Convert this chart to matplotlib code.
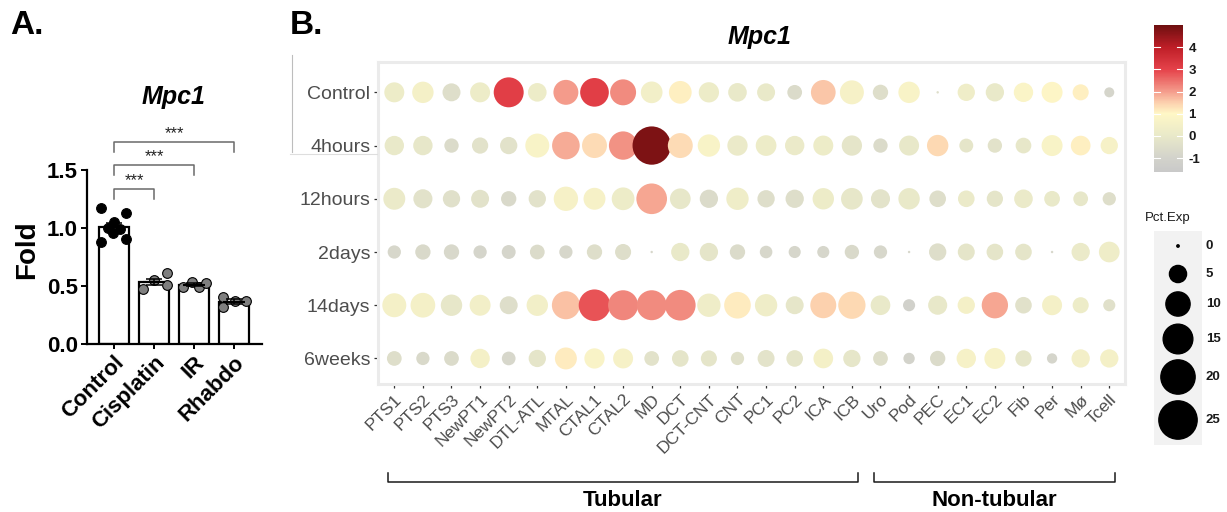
import numpy as np
import matplotlib
matplotlib.use("Agg")
import matplotlib.pyplot as plt
from matplotlib.colors import LinearSegmentedColormap, Normalize
from matplotlib.cm import ScalarMappable
from matplotlib.lines import Line2D

plt.rcParams['font.family'] = ['Liberation Sans', 'DejaVu Sans']
plt.rcParams['axes.unicode_minus'] = False

W, H = 1227, 512

# ---- panel A data (qPCR fold) ----
groups = ['Control', 'Cisplatin', 'IR', 'Rhabdo']
fold_pts = [
    [1.17, 1.13, 1.05, 1.00, 0.99, 0.96, 0.91, 0.88],
    [0.48, 0.55, 0.61, 0.51],
    [0.49, 0.54, 0.49, 0.53],
    [0.41, 0.32, 0.37, 0.37],
]
jitter = [
    [-0.32, 0.30, 0.0, -0.15, 0.15, -0.02, 0.30, -0.32],
    [-0.28, 0.0, 0.32, 0.32],
    [-0.28, -0.05, 0.12, 0.30],
    [-0.28, -0.28, 0.02, 0.30],
]
sig_pairs = [(0, 1), (0, 2), (0, 3)]
sig_labels = ['***', '***', '***']

# ---- panel B data (dot plot) ----
cell_types = ['PTS1', 'PTS2', 'PTS3', 'NewPT1', 'NewPT2', 'DTL-ATL', 'MTAL', 'CTAL1',
              'CTAL2', 'MD', 'DCT', 'DCT-CNT', 'CNT', 'PC1', 'PC2', 'ICA', 'ICB',
              'Uro', 'Pod', 'PEC', 'EC1', 'EC2', 'Fib', 'Per', 'M\u00f8', 'Tcell']
conditions = ['Control', '4hours', '12hours', '2days', '14days', '6weeks']

pct_exp = [
    [6.8, 7.8, 5.5, 6.8, 15.3, 5.9, 10.6, 14.0, 11.5, 8.0, 8.8, 7.0, 5.9, 5.5, 3.7, 10.4, 9.8, 4.0, 7.8, 0.1, 5.1, 5.7, 6.4, 7.5, 4.4, 1.7],
    [6.4, 6.4, 3.5, 4.5, 5.1, 9.8, 13.0, 10.6, 13.7, 25.0, 10.6, 8.5, 7.0, 7.3, 6.4, 6.8, 7.0, 3.5, 6.8, 7.8, 3.3, 3.5, 4.2, 7.5, 6.6, 5.1],
    [8.2, 6.2, 5.1, 5.5, 4.0, 5.1, 10.1, 8.2, 8.8, 16.0, 7.3, 5.7, 8.5, 5.1, 5.7, 7.8, 8.0, 6.2, 7.8, 4.7, 4.7, 4.5, 5.9, 4.2, 3.7, 3.0],
    [3.0, 4.0, 4.0, 3.0, 3.3, 3.7, 3.0, 4.0, 4.4, 0.1, 5.7, 5.7, 4.0, 2.7, 2.5, 2.5, 3.5, 3.0, 0.1, 5.1, 4.9, 4.7, 4.7, 0.1, 5.7, 7.3],
    [9.8, 10.4, 7.8, 7.5, 5.5, 7.8, 13.4, 17.0, 15.3, 15.3, 16.0, 9.3, 12.1, 8.5, 5.5, 11.5, 12.7, 6.6, 2.5, 6.2, 5.1, 11.8, 4.7, 6.8, 4.4, 2.5],
    [3.7, 3.0, 3.7, 6.4, 3.2, 5.1, 8.2, 7.0, 6.8, 3.7, 4.7, 4.4, 3.0, 4.9, 4.7, 6.6, 5.1, 3.7, 2.2, 4.0, 6.4, 7.5, 4.5, 1.8, 5.7, 5.7],
]
avg_exp = [
    [0.2, 0.5, -0.5, 0.2, 3.1, 0.2, 2.0, 3.1, 2.2, 0.4, 1.1, 0.2, 0.0, 0.0, -0.6, 1.6, 0.6, -0.5, 0.7, -0.5, 0.3, 0.0, 0.8, 0.9, 1.1, -0.9],
    [0.0, -0.1, -0.6, -0.3, -0.3, 0.7, 1.85, 1.35, 2.1, 4.8, 1.35, 0.7, 0.1, 0.2, 0.1, 0.2, -0.2, -0.6, -0.05, 1.4, -0.2, -0.3, -0.1, 0.7, 1.1, 0.6],
    [0.1, -0.3, -0.4, -0.3, -0.7, -0.3, 0.6, 0.6, 0.2, 1.9, -0.1, -0.6, 0.3, -0.5, -0.5, 0.2, -0.1, -0.25, 0.0, -0.5, 0.1, -0.2, 0.1, 0.0, -0.1, -0.5],
    [-0.8, -0.7, -0.75, -0.9, -0.9, -0.6, -0.8, -0.5, -0.5, -0.8, 0.0, -0.2, -0.6, -0.8, -0.85, -0.85, -0.7, -0.8, -0.8, -0.5, -0.2, -0.2, -0.2, -0.8, 0.1, 0.3],
    [0.5, 0.5, -0.1, 0.4, -0.5, 0.4, 1.65, 2.8, 2.25, 2.2, 2.2, 0.3, 1.15, 0.3, -0.15, 1.5, 1.4, 0.0, -1.1, -0.05, 0.5, 1.9, -0.35, 0.5, 0.2, -0.4],
    [-0.5, -0.7, -0.6, 0.5, -0.8, -0.2, 1.15, 0.75, 0.6, -0.3, -0.2, -0.2, -0.4, -0.25, -0.2, 0.5, -0.15, -0.5, -1.0, -0.6, 0.6, 0.65, -0.15, -0.9, 0.45, 0.5],
]
size_breaks = [0, 5, 10, 15, 20, 25]
color_breaks = [-1, 0, 1, 2, 3, 4]
groups_b = [('Tubular', 0, 16), ('Non-tubular', 17, 25)]

vmin, vmax = -1.63, 5.0
anchors = [(-1.63, '#C9C9C9'), (-1.0, '#D3D3CB'), (0.0, '#E9E9C9'), (1.0, '#FFF7C6'),
           (1.5, '#FCD0AE'), (2.0, '#F49C8C'), (3.0, '#E5424A'), (4.0, '#BE1E27'), (5.0, '#6E0F10')]
cmap = LinearSegmentedColormap.from_list(
    'expr', [((v - vmin) / (vmax - vmin), c) for v, c in anchors])
norm = Normalize(vmin, vmax)
SCALE = (7.66 * 0.72) ** 2   # points^2 per pct


def fx(x):
    return x / W


def fy(y):
    return 1 - y / H


fig = plt.figure(figsize=(W / 100, H / 100), dpi=100)

# ================= panel A =================
axA = fig.add_axes([fx(87), fy(344.3), (261.7 - 87) / W, (344.3 - 170) / H])
means = [np.mean(p) for p in fold_pts]
sems = [np.std(p, ddof=1) / np.sqrt(len(p)) for p in fold_pts]
xs = np.arange(len(groups))
axA.bar(xs, means, width=0.75, color='white', edgecolor='black', linewidth=1.6, zorder=1)
for i, (pts, jit) in enumerate(zip(fold_pts, jitter)):
    fc = 'black' if i == 0 else '#7F7F7F'
    axA.plot(i + np.array(jit), pts, 'o', ms=7, mfc=fc, mec='black', mew=0.8,
             zorder=3, clip_on=False)
axA.errorbar(xs, means, yerr=sems, fmt='none', ecolor='black', elinewidth=1.1,
             capsize=6, capthick=1.1, zorder=4)
axA.plot(xs, means, '_', ms=16, mew=1.5, color='black', zorder=4)
axA.set_xlim(-0.675, 3.69)
axA.set_ylim(0, 1.5)
axA.spines[['top', 'right']].set_visible(False)
for s in ['left', 'bottom']:
    axA.spines[s].set_linewidth(1.6)
axA.set_yticks([0, 0.5, 1.0, 1.5])
axA.set_yticklabels(['0.0', '0.5', '1.0', '1.5'], fontsize=16, fontweight='bold')
axA.set_xticks(xs)
axA.set_xticklabels(groups, fontsize=16, fontweight='bold', rotation=45,
                    ha='right', va='top', rotation_mode='anchor')
axA.tick_params(axis='y', length=4.5, width=1.4, pad=2)
axA.tick_params(axis='x', length=3.5, width=1.4, pad=2)

bracket_y = [1.336, 1.544, 1.737]
for (a, b), lab, yb in zip(sig_pairs, sig_labels, bracket_y):
    axA.plot([a, a, b, b], [yb - 0.085, yb, yb, yb - 0.085], color='#6A6A6A',
             lw=1.1, clip_on=False)
    axA.text((a + b) / 2, yb + 0.008, lab, ha='center', va='bottom', fontsize=12,
             color='#222222', clip_on=False)

fig.text(fx(173), fy(97), 'Mpc1', ha='center', va='center', fontsize=18,
         fontweight='bold', style='italic')
fig.text(fx(27), fy(250), 'Fold', ha='center', va='center', fontsize=20,
         fontweight='bold', rotation=90)
fig.text(fx(10), fy(26), 'A.', ha='left', va='center', fontsize=24, fontweight='bold')
fig.text(fx(290), fy(26), 'B.', ha='left', va='center', fontsize=24, fontweight='bold')

# ================= panel B =================
axB = fig.add_axes([fx(378), fy(384), 747 / W, 322 / H])
pct = np.array(pct_exp)
avg = np.array(avg_exp)
gx, gy = np.meshgrid(np.arange(len(cell_types)), np.arange(len(conditions)))
axB.scatter(gx.ravel(), gy.ravel(), s=SCALE * pct.ravel(), c=avg.ravel(),
            cmap=cmap, norm=norm, edgecolors='none', zorder=3)
axB.set_xlim(-0.57, 25.55)
axB.set_ylim(5.48, -0.57)
for s in axB.spines.values():
    s.set_color('#EBEBEB')
    s.set_linewidth(2.2)
axB.set_xticks(np.arange(len(cell_types)))
axB.set_xticklabels(cell_types, rotation=45, ha='right', va='top',
                    rotation_mode='anchor', fontsize=12.5, color='#4D4D4D')
axB.set_yticks(np.arange(len(conditions)))
axB.set_yticklabels(conditions, fontsize=14, color='#4D4D4D')
axB.tick_params(axis='both', length=3, width=0.9, color='#333333', pad=2.5)

fig.text(fx(759), fy(37), 'Mpc1', ha='center', va='center', fontsize=18,
         fontweight='bold', style='italic')

# group brackets under x labels
for (name, c0, c1) in groups_b:
    x0 = axB.transData.transform((c0 - 0.23, 0))[0]
    x1 = axB.transData.transform((c1 + 0.2, 0))[0]
    x0, x1 = x0 / fig.dpi / fig.get_figwidth(), x1 / fig.dpi / fig.get_figwidth()
    fig.add_artist(Line2D([x0, x0, x1, x1], [fy(473), fy(482), fy(482), fy(473)],
                          color='#1A1A1A', lw=1.1))
    fig.text((x0 + x1) / 2, fy(501), name, ha='center', va='center', fontsize=16,
             fontweight='bold')

# faint leftover frame lines
fig.add_artist(Line2D([fx(292), fx(292)], [fy(55), fy(152)], color='#BDBDBD', lw=0.8))
fig.add_artist(Line2D([fx(290), fx(377)], [fy(153.5), fy(153.5)], color='#DEDEDE', lw=0.8))

# colour bar
cax = fig.add_axes([fx(1154), fy(172), 29 / W, 147 / H])
cb = fig.colorbar(ScalarMappable(norm=norm, cmap=cmap), cax=cax)
cb.outline.set_visible(False)
cb.set_ticks(color_breaks)
cb.ax.tick_params(length=0, labelsize=9.5, pad=4, labelcolor='#1A1A1A')
for t in cb.ax.get_yticklabels():
    t.set_fontweight('bold')
for v in color_breaks:
    cax.plot([0, 0.2], [v, v], color='white', lw=0.8, transform=cax.get_yaxis_transform())
    cax.plot([0.8, 1], [v, v], color='white', lw=0.8, transform=cax.get_yaxis_transform())

# size legend
fig.text(fx(1145), fy(218), 'Pct.Exp', ha='left', va='center', fontsize=9.5, color='#1A1A1A')
lax = fig.add_axes([fx(1154), fy(445), 48 / W, 214 / H])
lax.set_facecolor('#F2F2F2')
for s in lax.spines.values():
    s.set_visible(False)
lax.set_xticks([])
lax.set_yticks([])
lax.set_xlim(1154, 1202)
lax.set_ylim(445, 231)
key_y = [246, 274, 304, 339, 377, 420]
sizes = [SCALE * max(b, 0.1) for b in size_breaks]
lax.scatter([1178] * len(size_breaks), key_y, s=sizes, color='black', clip_on=False)
for b, yk in zip(size_breaks, key_y):
    lax.text(1206, yk, str(b), ha='left', va='center', fontsize=9.5,
             fontweight='bold', color='#1A1A1A', clip_on=False)

fig.savefig('out.png', dpi=100)
